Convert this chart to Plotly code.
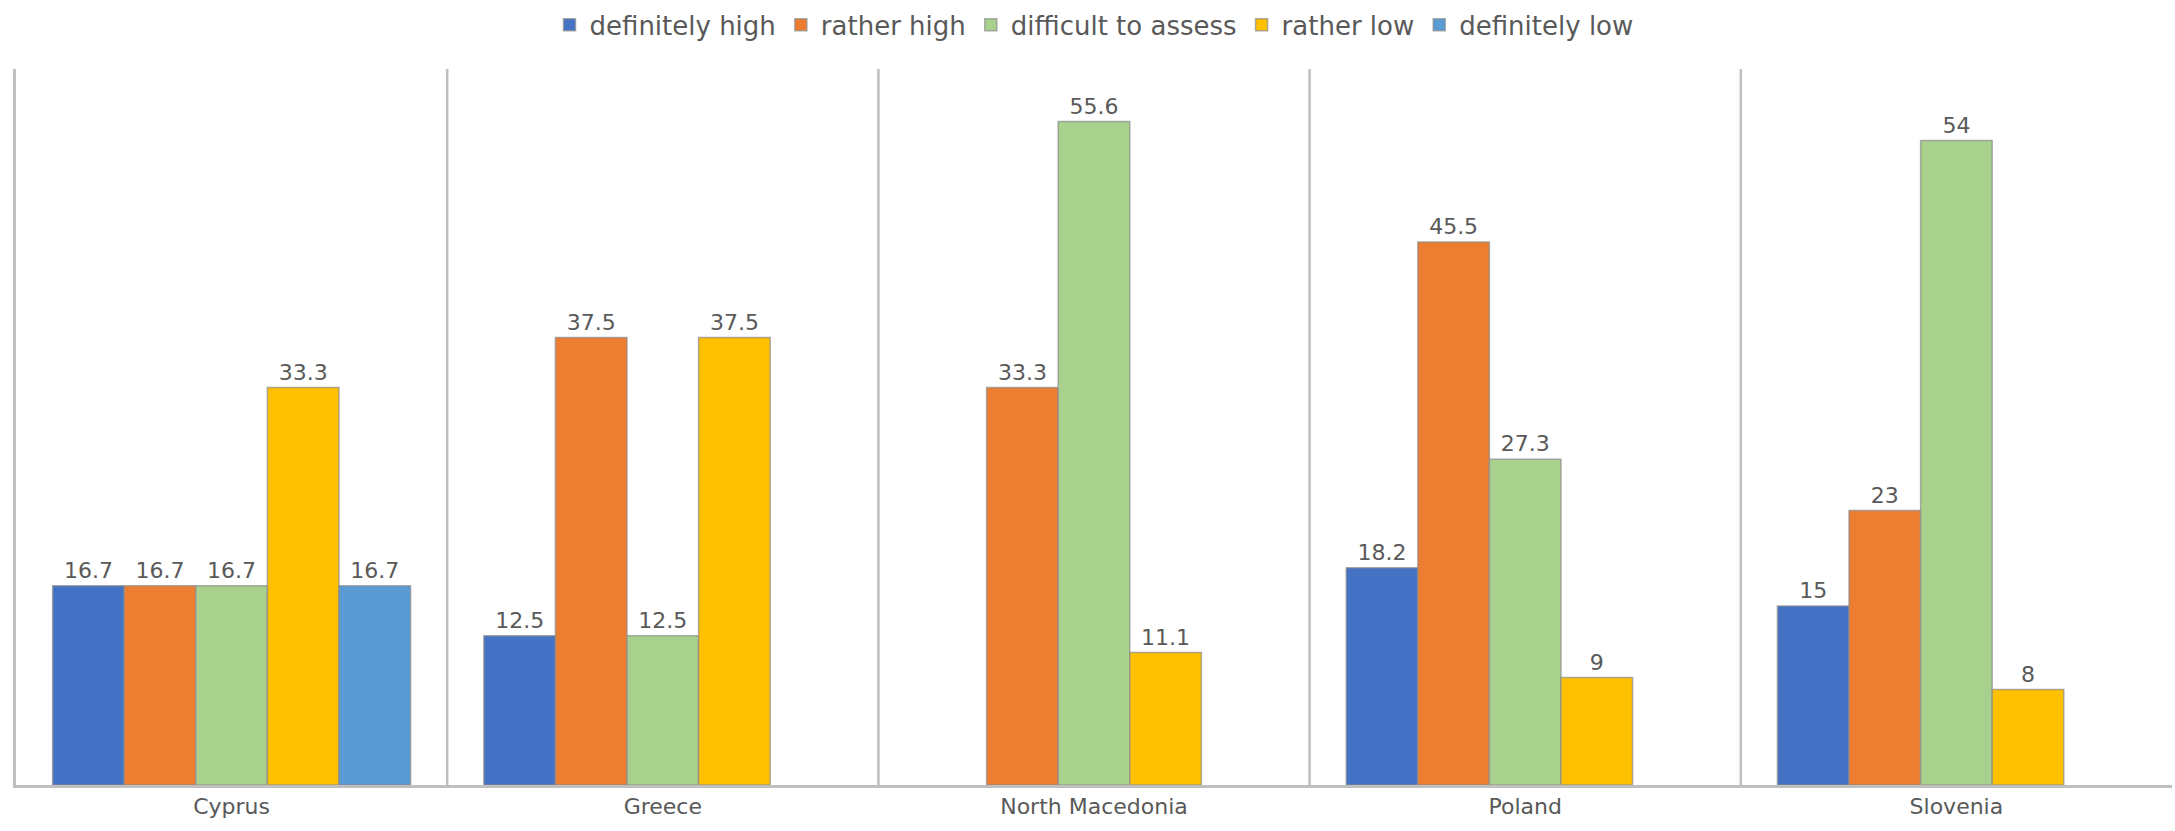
import plotly.graph_objects as go

countries = ["Cyprus", "Greece", "North Macedonia", "Poland", "Slovenia"]
series_names = ["definitely high", "rather high", "difficult to assess", "rather low", "definitely low"]
definitely_high = [16.7, 12.5, None, 18.2, 15]
rather_high = [16.7, 37.5, 33.3, 45.5, 23]
difficult = [16.7, 12.5, 55.6, 27.3, 54]
rather_low = [33.3, 37.5, 11.1, 9, 8]
definitely_low = [16.7, None, None, None, None]

colors = ["#4472C4", "#ED7D31", "#A9D18E", "#FFC000", "#5B9BD5"]
all_values = [definitely_high, rather_high, difficult, rather_low, definitely_low]

FONT = "DejaVu Sans"
TXT = "#595959"

fig = go.Figure()
for name, vals, col in zip(series_names, all_values, colors):
    fig.add_trace(go.Bar(
        name=name, x=countries, y=vals,
        marker=dict(color=col, line=dict(color="rgba(140,140,140,0.7)", width=1.5)),
        text=[("" if v is None else f"{v:g}") for v in vals],
        textposition="outside", cliponaxis=False,
        textfont=dict(family=FONT, size=22, color=TXT),
    ))

shapes = []
for i in range(len(countries) - 1):
    shapes.append(dict(type="line", xref="x", yref="y", x0=i + 0.5, x1=i + 0.5,
                       y0=0, y1=60, line=dict(color="#BFBFBF", width=2.5), layer="below"))

fig.update_layout(
    width=2175, height=831,
    margin=dict(l=16, r=3, t=69, b=46, autoexpand=False),
    paper_bgcolor="white", plot_bgcolor="white",
    barmode="group", bargap=0.17, bargroupgap=0,
    font=dict(family=FONT, size=22, color=TXT),
    legend=dict(orientation="h", x=0.5, xanchor="center", y=0.97, yref="container",
                yanchor="middle", font=dict(family=FONT, size=26, color=TXT),
                traceorder="normal", itemwidth=30),
    shapes=shapes,
    showlegend=True,
)
fig.update_xaxes(showline=True, linecolor="#BFBFBF", linewidth=2.5, ticks="",
                 tickfont=dict(family=FONT, size=22, color=TXT), showgrid=False,
                 automargin=False)
fig.update_yaxes(range=[0, 60], showline=True, linecolor="#BFBFBF", linewidth=2.5,
                 showticklabels=False, ticks="", showgrid=False, zeroline=False,
                 automargin=False)

fig.write_html("out.html", config={"displayModeBar": False},
               post_script="document.body.style.margin='0';document.body.style.overflow='hidden';")
